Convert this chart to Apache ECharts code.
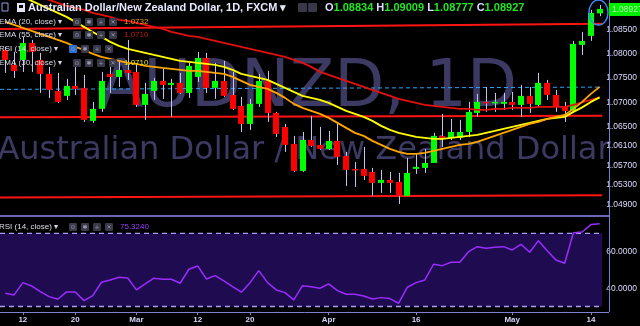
<!DOCTYPE html>
<html><head><meta charset="utf-8">
<script src="https://cdn.jsdelivr.net/npm/echarts@6/dist/echarts.min.js"></script>
<style>html,body{margin:0;padding:0;background:#000;}#c{width:640px;height:326px;}</style>
</head><body><div id="c"></div>
<script>
// ---------- data ----------
const dates = ['2018-02-08','2018-02-09','2018-02-12','2018-02-13','2018-02-14','2018-02-15','2018-02-16','2018-02-19','2018-02-20','2018-02-21','2018-02-22','2018-02-23','2018-02-26','2018-02-27','2018-02-28',
'2018-03-01','2018-03-02','2018-03-05','2018-03-06','2018-03-07','2018-03-08','2018-03-09','2018-03-12','2018-03-13','2018-03-14','2018-03-15','2018-03-16','2018-03-19','2018-03-20','2018-03-21','2018-03-22','2018-03-23','2018-03-26','2018-03-27','2018-03-28','2018-03-29','2018-03-30',
'2018-04-02','2018-04-03','2018-04-04','2018-04-05','2018-04-06','2018-04-09','2018-04-10','2018-04-11','2018-04-12','2018-04-13','2018-04-16','2018-04-17','2018-04-18','2018-04-19','2018-04-20','2018-04-23','2018-04-24','2018-04-25','2018-04-26','2018-04-27','2018-04-30',
'2018-05-01','2018-05-02','2018-05-03','2018-05-04','2018-05-07','2018-05-08','2018-05-09','2018-05-10','2018-05-11','2018-05-14','2018-05-15'];

const xTickLabels = {'2018-02-12':'12','2018-02-20':'20','2018-03-01':'Mar','2018-03-12':'12','2018-03-20':'20','2018-04-02':'Apr','2018-04-16':'16','2018-05-01':'May','2018-05-14':'14'};

const opens  = [1.08081,1.07772,1.07875,1.08225,1.07875,1.07586,1.07236,1.07133,1.07339,1.07298,1.06617,1.06865,1.07586,1.07524,1.07669,1.07627,1.06947,1.07236,1.07442,1.07359,1.07401,1.07194,1.07524,1.07916,1.07298,1.07442,1.07153,1.06926,1.06555,1.06968,1.07442,1.06782,1.06493,1.06143,1.05586,1.06225,1.06122,1.06040,1.06205,1.05895,1.05627,1.05627,1.05566,1.05339,1.05401,1.05359,1.05071,1.05627,1.05648,1.05751,1.06308,1.06267,1.06267,1.06390,1.06782,1.07009,1.06978,1.06968,1.07009,1.06947,1.07133,1.06947,1.07401,1.07153,1.06906,1.06823,1.08184,1.08370,1.08834];
const closes = [1.07875,1.07648,1.08225,1.08040,1.07586,1.07256,1.07009,1.07339,1.07277,1.06638,1.06865,1.07442,1.07524,1.07669,1.07607,1.06947,1.07174,1.07442,1.07359,1.07401,1.07194,1.07751,1.07916,1.07298,1.07442,1.07133,1.06865,1.06555,1.06968,1.07442,1.06782,1.06349,1.06122,1.05586,1.06225,1.06102,1.06040,1.06205,1.05875,1.05607,1.05607,1.05483,1.05339,1.05401,1.05339,1.05071,1.05545,1.05669,1.05751,1.06308,1.06267,1.06390,1.06390,1.06803,1.07009,1.06978,1.07009,1.07009,1.06947,1.07133,1.06968,1.07401,1.07153,1.06906,1.06823,1.08205,1.08267,1.08844,1.08927];
const lows   = [1.07607,1.07504,1.07627,1.07627,1.07194,1.07091,1.06988,1.07050,1.07153,1.06596,1.06576,1.06803,1.07194,1.07318,1.07462,1.06906,1.06638,1.07050,1.07071,1.06700,1.07174,1.07091,1.07421,1.07194,1.07071,1.07112,1.06844,1.06390,1.06432,1.06906,1.06596,1.06287,1.05978,1.05566,1.05566,1.06081,1.06019,1.06019,1.05710,1.05277,1.05256,1.05401,1.05071,1.05133,1.05133,1.04906,1.05071,1.05524,1.05545,1.05751,1.06081,1.06225,1.06225,1.06287,1.06700,1.06803,1.06803,1.06844,1.06844,1.06700,1.06782,1.06906,1.07050,1.06803,1.06596,1.06823,1.07978,1.08267,1.08777];
const highs  = [1.08143,1.08040,1.08349,1.08287,1.08019,1.07731,1.07607,1.07483,1.07731,1.07566,1.07009,1.07627,1.07834,1.07834,1.08287,1.07772,1.07401,1.07504,1.07689,1.07483,1.07607,1.07813,1.08040,1.08019,1.07813,1.07854,1.07627,1.07112,1.07071,1.07586,1.07648,1.06803,1.06555,1.06308,1.06390,1.06720,1.06493,1.06411,1.06596,1.05978,1.05772,1.06081,1.05648,1.05607,1.05566,1.05545,1.05854,1.05937,1.06040,1.06370,1.06761,1.06658,1.06638,1.07009,1.07174,1.07318,1.07194,1.07194,1.07215,1.07359,1.07318,1.07607,1.07462,1.07256,1.07009,1.08267,1.08452,1.08906,1.09009];

const ema20 = [1.08659,1.08597,1.08535,1.08473,1.08411,1.08350,1.08288,1.08226,1.08143,1.08081,1.07999,1.07937,1.07896,1.07855,1.07813,1.07793,1.07752,1.07731,1.07710,1.07690,1.07669,1.07648,1.07648,1.07628,1.07607,1.07587,1.07525,1.07442,1.07360,1.07318,1.07277,1.07195,1.07092,1.06968,1.06885,1.06824,1.06762,1.06679,1.06576,1.06473,1.06370,1.06308,1.06205,1.06123,1.06040,1.05978,1.05937,1.05937,1.05958,1.05999,1.06040,1.06081,1.06123,1.06143,1.06185,1.06246,1.06308,1.06370,1.06432,1.06494,1.06556,1.06597,1.06659,1.06700,1.06741,1.06865,1.07009,1.07174,1.07318];
const ema30 = [1.09360,1.09257,1.09174,1.09092,1.09009,1.08927,1.08844,1.08762,1.08659,1.08556,1.08452,1.08350,1.08246,1.08164,1.08102,1.08061,1.08020,1.07978,1.07937,1.07896,1.07855,1.07834,1.07813,1.07793,1.07772,1.07731,1.07669,1.07587,1.07545,1.07504,1.07463,1.07380,1.07298,1.07215,1.07133,1.07092,1.07050,1.06988,1.06906,1.06824,1.06762,1.06700,1.06618,1.06514,1.06432,1.06370,1.06329,1.06288,1.06267,1.06246,1.06246,1.06267,1.06288,1.06308,1.06329,1.06370,1.06411,1.06453,1.06494,1.06535,1.06576,1.06618,1.06659,1.06679,1.06700,1.06803,1.06896,1.07009,1.07102];
const ema55 = [1.09401,1.09339,1.09277,1.09216,1.09174,1.09112,1.09051,1.08989,1.08947,1.08906,1.08844,1.08803,1.08762,1.08700,1.08679,1.08638,1.08597,1.08556,1.08514,1.08452,1.08411,1.08370,1.08350,1.08308,1.08267,1.08226,1.08185,1.08143,1.08102,1.08061,1.08020,1.07978,1.07937,1.07875,1.07813,1.07731,1.07628,1.07566,1.07504,1.07442,1.07380,1.07318,1.07256,1.07195,1.07133,1.07071,1.07030,1.06988,1.06947,1.06927,1.06906,1.06885,1.06865,1.06865,1.06844,1.06844,1.06865,1.06865,1.06885,1.06885,1.06885,1.06906,1.06906,1.06906,1.06906,1.06947,1.06999,1.07050,1.07102];

const rsi14 = [37.27,36.34,43.06,41.26,38.14,35.41,33.99,37.98,37.98,33.22,35.96,43.28,44.54,46.01,45.63,39.07,42.35,45.46,44.92,44.92,42.73,50.38,52.19,45.08,46.89,43.99,40.87,37.81,43.06,49.62,43.06,39.07,37.60,33.61,41.42,40.87,40.00,42.35,38.69,36.72,36.72,35.79,34.15,34.86,34.32,31.80,40.55,43.06,44.54,53.11,52.35,54.21,54.21,60.00,62.73,61.86,62.40,62.73,60.93,64.04,59.67,66.01,60.55,55.46,53.66,70.38,70.77,74.80,75.32];

// drawn support / resistance lines (start value, end value)
const resistanceLine = [1.08514, 1.08618];
const middleLine     = [1.06690, 1.06721];
const supportLine    = [1.05036, 1.05086];
const dashedLine     = [1.07267, 1.07314];
const rsiBands       = [30, 70];

const priceTicks = [1.085, 1.080, 1.075, 1.070, 1.065, 1.061, 1.057, 1.053, 1.049];
const rsiTicks   = [60, 40];
const ohlc = {O:'1.08834', H:'1.09009', L:'1.08777', C:'1.08927'};
const legendValues = {ema20:'1.0732', ema55:'1.0710', ema30:'1.0710', rsi:'75.3240'};
const lastPrice = '1.08927';

// ---------- chart ----------
const candleData = dates.map((d, i) => [i, opens[i], closes[i], lows[i], highs[i]]);
const pTickKeys = priceTicks.map(v => Math.round(v * 10000));

function renderCandle(params, api) {
  const i = api.value(0), o = api.value(1), c = api.value(2), l = api.value(3), h = api.value(4);
  const pO = api.coord([i, o]), pC = api.coord([i, c]), pL = api.coord([i, l]), pH = api.coord([i, h]);
  const x = Math.round(pO[0]);
  const top = Math.min(pO[1], pC[1]), bot = Math.max(pO[1], pC[1]);
  return {type: 'group', children: [
    {type: 'line', shape: {x1: x + 0.5, y1: pH[1], x2: x + 0.5, y2: pL[1]}, style: {stroke: '#c4c4f2', lineWidth: 1}},
    {type: 'rect', shape: {x: x - 3, y: top, width: 6, height: Math.max(bot - top, 1.5)}, style: {fill: c >= o ? '#00ff00' : '#ff0000'}}
  ]};
}

const LF = '"Liberation Sans", Arial, sans-serif';
const labelCol = '#dcdcff';
const iconGlyphs = ['\u2299', '\u2731', '+', '\u2715'];
function iconRow(xs, y, highlightFirst) {
  const out = [];
  xs.forEach((x, k) => {
    out.push({type: 'rect', z: 50, shape: {x: x, y: y, width: 8, height: 8, r: 1}, style: {fill: (k === 0 && highlightFirst) ? '#2b70d8' : '#383848'}});
    out.push({type: 'text', z: 51, x: x + 4, y: y + 4, style: {text: iconGlyphs[k], font: '6px "DejaVu Sans"', fill: '#9a9ab0', align: 'center', verticalAlign: 'middle', textAlign: 'center', textVerticalAlign: 'middle'}});
  });
  return out;
}
function txt(x, y, text, font, fill, extra) {
  return Object.assign({type: 'text', z: 50, x: x, y: y, style: {text: text, font: font, fill: fill, align: 'left', verticalAlign: 'middle', textAlign: 'left', textVerticalAlign: 'middle'}}, extra || {});
}

const graphics = [
  // watermark
  {type: 'text', z: 0, x: 308, y: 89, style: {text: 'AUDNZD, 1D', font: '65px "DejaVu Sans"', fill: '#3c3a62', align: 'center', verticalAlign: 'middle', textAlign: 'center', textVerticalAlign: 'middle'}},
  {type: 'text', z: 0, x: 304, y: 151, style: {text: 'Australian Dollar / New Zealand Dollar', font: '32px "DejaVu Sans"', fill: '#3c3a62', align: 'center', verticalAlign: 'middle', textAlign: 'center', textVerticalAlign: 'middle'}},
  // panel frame lines
  {type: 'line', z: 10, shape: {x1: 0, y1: 216, x2: 609, y2: 216}, style: {stroke: '#6a6ab4', lineWidth: 2}},
  {type: 'line', z: 10, shape: {x1: 609.5, y1: 0, x2: 609.5, y2: 312}, style: {stroke: '#7c7cd0', lineWidth: 1}},
  {type: 'line', z: 10, shape: {x1: 0, y1: 312.5, x2: 609, y2: 312.5}, style: {stroke: '#8080d0', lineWidth: 1}},
  // header
  {type: 'rect', z: 50, shape: {x: 2, y: 3, width: 6, height: 8}, style: {fill: 'none', stroke: '#9a9ae8', lineWidth: 1}},
  {type: 'rect', z: 50, shape: {x: 17, y: 3, width: 8, height: 9}, style: {fill: '#e4e4f4'}},
  {type: 'rect', z: 51, shape: {x: 19, y: 5, width: 4, height: 3}, style: {fill: '#000'}},
  txt(28, 8, 'Australian Dollar/New Zealand Dollar, 1D, FXCM \u25BE', 'bold 11px ' + LF, '#e8e8ff'),
  {type: 'rect', z: 50, shape: {x: 298, y: 3, width: 9, height: 9, r: 1}, style: {fill: '#383848'}},
  {type: 'rect', z: 50, shape: {x: 308, y: 3, width: 9, height: 9, r: 1}, style: {fill: '#383848'}},
  {type: 'text', z: 50, x: 325, y: 8, style: {
    text: '{l|O}{v|' + ohlc.O + '} {l|H}{v|' + ohlc.H + '} {l|L}{v|' + ohlc.L + '} {l|C}{v|' + ohlc.C + '}',
    align: 'left', verticalAlign: 'middle', textAlign: 'left', textVerticalAlign: 'middle',
    font: 'bold 11px ' + LF,
    rich: {l: {fill: '#dcdcff', color: '#dcdcff', font: 'bold 11px ' + LF}, v: {fill: '#22e622', color: '#22e622', font: 'bold 11px ' + LF}}
  }},
  // legend rows
  txt(-1, 22, 'EMA (20, close) \u25BE', '8px ' + LF, '#dcdcec'),
  txt(-1, 35, 'EMA (55, close) \u25BE', '8px ' + LF, '#dcdcec'),
  txt(-1, 49, 'RSI (14, close) \u25BE', '8px ' + LF, '#dcdcec'),
  txt(-1, 63, 'EMA (30, close) \u25BE', '8px ' + LF, '#dcdcec'),
  txt(124, 22, legendValues.ema20, '8px ' + LF, '#f0a020'),
  txt(124, 35, legendValues.ema55, '8px ' + LF, '#c01818'),
  txt(124, 63, legendValues.ema30, '8px ' + LF, '#e6e600'),
  ...iconRow([73, 85, 97, 109], 18, false),
  ...iconRow([73, 85, 97, 109], 31, false),
  ...iconRow([69, 81, 93, 105], 45, true),
  ...iconRow([73, 85, 97, 109], 59, false),
  // RSI legend
  txt(-1, 227, 'RSI (14, close) \u25BE', '8px ' + LF, '#dcdcec'),
  ...iconRow([69, 81, 93, 105], 223, false),
  txt(120, 227, legendValues.rsi, '8px ' + LF, '#9a40ff'),
  // last price label & highlight
  {type: 'rect', z: 50, shape: {x: 609, y: 3, width: 31, height: 13}, style: {fill: '#00ee00'}},
  txt(612, 9.5, lastPrice, '8.5px ' + LF, '#b4f5b4'),
  {type: 'ellipse', z: 50, shape: {cx: 598.5, cy: 12.5, rx: 9.5, ry: 12.5}, style: {fill: 'none', stroke: '#3f86f2', lineWidth: 1.5}}
];

function levelSeries(vals, color, width, type) {
  return {type: 'line', xAxisIndex: 1, yAxisIndex: 1, data: [[0, vals[0]], [1, vals[1]]], symbol: 'none', silent: true, z: 1,
    lineStyle: {color: color, width: width, type: type || 'solid'}};
}

const option = {
  backgroundColor: '#000',
  animation: false,
  grid: [
    {left: 1, top: 0, width: 603, height: 216.3},
    {left: 0, top: 0, width: 609, height: 216.3},
    {left: 0, top: 216, width: 609, height: 96},
    {left: 1, top: 216, width: 603, height: 96}
  ],
  xAxis: [
    {gridIndex: 0, type: 'category', data: dates, boundaryGap: true, show: false},
    {gridIndex: 1, type: 'value', min: 0, max: 1, show: false},
    {gridIndex: 2, type: 'value', min: 0, max: 1, show: false},
    {gridIndex: 3, type: 'category', data: dates, boundaryGap: true,
      axisLine: {show: false}, splitLine: {show: false},
      axisTick: {show: true, alignWithLabel: true, length: 3, interval: (i, v) => v in xTickLabels, lineStyle: {color: '#8080d0'}},
      axisLabel: {interval: (i, v) => v in xTickLabels, formatter: v => xTickLabels[v] || '', color: '#d4d4f8', fontSize: 8, fontWeight: 'bold', fontFamily: 'Liberation Sans', margin: 4}}
  ],
  yAxis: [
    {gridIndex: 0, type: 'value', min: 1.0465, max: 1.0911, show: false},
    {gridIndex: 1, type: 'value', min: 1.0465, max: 1.0911, interval: 0.0005, position: 'right',
      axisLine: {show: false}, axisTick: {show: false}, splitLine: {show: false},
      axisLabel: {margin: 4, color: labelCol, fontSize: 8.5, fontFamily: 'Liberation Sans',
        formatter: v => pTickKeys.includes(Math.round(v * 10000)) && Math.abs(v * 10000 - Math.round(v * 10000)) < 1e-4 ? v.toFixed(5) : ''}},
    {gridIndex: 2, type: 'value', min: 27, max: 79.5, interval: 1, position: 'right',
      axisLine: {show: false}, axisTick: {show: false}, splitLine: {show: false},
      axisLabel: {margin: 4, color: labelCol, fontSize: 8.5, fontFamily: 'Liberation Sans',
        formatter: v => rsiTicks.includes(Math.round(v)) && Math.abs(v - Math.round(v)) < 1e-6 ? v.toFixed(4) : ''}},
    {gridIndex: 3, type: 'value', min: 27, max: 79.5, show: false}
  ],
  graphic: {elements: graphics},
  series: [
    levelSeries(resistanceLine, '#ff1414', 2),
    levelSeries(middleLine, '#ff1414', 2),
    levelSeries(supportLine, '#ff1414', 2),
    levelSeries(dashedLine, '#26a4ff', 1, [4, 3]),
    {type: 'custom', xAxisIndex: 0, yAxisIndex: 0, z: 3, data: candleData, renderItem: renderCandle,
      encode: {x: 0, y: [1, 2, 3, 4]}, silent: true},
    {type: 'line', xAxisIndex: 0, yAxisIndex: 0, data: ema55, symbol: 'none', z: 4, silent: true, lineStyle: {color: '#e41010', width: 1.8}},
    {type: 'line', xAxisIndex: 0, yAxisIndex: 0, data: ema30, symbol: 'none', z: 4, silent: true, lineStyle: {color: '#ffff00', width: 1.8}},
    {type: 'line', xAxisIndex: 0, yAxisIndex: 0, data: ema20, symbol: 'none', z: 4, silent: true, lineStyle: {color: '#ffa500', width: 1.8}},
    {type: 'line', xAxisIndex: 2, yAxisIndex: 2, data: [[0, rsiBands[1]], [1, rsiBands[1]]], symbol: 'none', silent: true, z: 1,
      lineStyle: {color: '#a69ef2', width: 1.3, type: [5, 4]}, areaStyle: {origin: rsiBands[0], color: '#1f0c50', opacity: 1}},
    {type: 'line', xAxisIndex: 2, yAxisIndex: 2, data: [[0, rsiBands[0]], [1, rsiBands[0]]], symbol: 'none', silent: true, z: 2,
      lineStyle: {color: '#a69ef2', width: 1.3, type: [5, 4]}},
    {type: 'line', xAxisIndex: 3, yAxisIndex: 3, data: rsi14, symbol: 'none', silent: true, z: 3,
      lineStyle: {color: '#9a2cff', width: 1.5}}
  ]
};

const chart = echarts.init(document.getElementById('c'), null, {renderer: 'canvas'});
chart.setOption(option);
</script>
</body></html>
